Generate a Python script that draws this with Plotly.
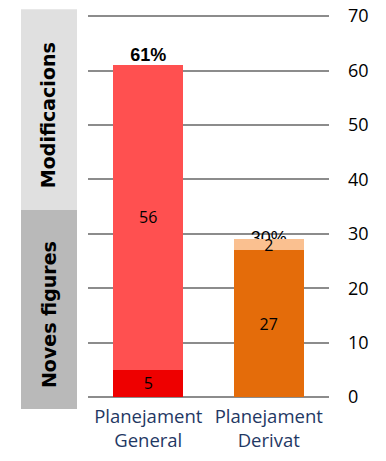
import plotly.graph_objects as go

categories = ["Planejament<br>General", "Planejament<br>Derivat"]
noves_figures = [5, 27]
modificacions = [56, 2]
total_labels = ["61%", "30%"]
noves_colors = ["#ee0000", "#e46c0a"]
modif_colors = ["#ff5050", "#fac090"]
y_ticks = [0, 10, 20, 30, 40, 50, 60, 70]
y_max = 70.4

totals = [a + b for a, b in zip(noves_figures, modificacions)]

fig = go.Figure()

# total labels on base axes (drawn beneath the bars, which sit on overlay axes)
fig.add_trace(go.Scatter(
    x=categories, y=totals, mode="text", text=total_labels,
    textposition=["top center", "middle center"],
    textfont=dict(family="Liberation Sans", size=18, color="black", weight=[700, 400]),
    hoverinfo="skip", showlegend=False, xaxis="x", yaxis="y",
))

for vals, cols, name in [(noves_figures, noves_colors, "Noves figures"),
                         (modificacions, modif_colors, "Modificacions")]:
    fig.add_trace(go.Bar(
        x=categories, y=vals, name=name,
        marker=dict(color=cols, line=dict(width=0)),
        text=[str(v) for v in vals], textposition="inside", textangle=0,
        insidetextanchor="middle", constraintext="none",
        textfont=dict(family="Open Sans", size=16, color="black"),
        xaxis="x2", yaxis="y2", showlegend=False,
    ))

W, H = 386, 461
# Plot area in page pixels: x 88..329; value 0 at y=397, value 70 at y=16
unit = (397 - 16) / 70.0
top_px = 397 - y_max * unit
L, R = 88, W - 329
T, B = top_px, H - 397
pw, ph = W - L - R, H - T - B

def px(x):
    return (x - L) / pw

def py(y):
    return (H - B - y) / ph

fig.update_layout(
    width=W, height=H,
    margin=dict(l=L, r=R, t=T, b=B),
    paper_bgcolor="white", plot_bgcolor="white",
    barmode="stack", bargap=0.42,
    uniformtext=dict(minsize=16, mode="show"),
    xaxis=dict(type="category", range=[-0.5, 1.5], showgrid=False, showline=False,
               automargin=False,
               ticks="", tickfont=dict(family="Open Sans", size=18.5, color="#1f3864"),
               ticklabelstandoff=6),
    yaxis=dict(range=[0, y_max], tickvals=y_ticks, side="right", showgrid=True,
               automargin=False,
               gridcolor="#8c8c8c", gridwidth=1.6, zeroline=True,
               zerolinecolor="#8c8c8c", zerolinewidth=1.6, showline=False, ticks="",
               tickfont=dict(family="Open Sans", size=18, color="black"),
               ticklabelstandoff=18),
    xaxis2=dict(type="category", range=[-0.5, 1.5], overlaying="x", visible=False,
                automargin=False),
    yaxis2=dict(range=[0, y_max], overlaying="y", visible=False, automargin=False),
    shapes=[
        dict(type="rect", xref="paper", yref="paper", x0=px(21), x1=px(77),
             y0=py(210), y1=py(9), fillcolor="#e0e0e0", line=dict(width=0), layer="below"),
        dict(type="rect", xref="paper", yref="paper", x0=px(21), x1=px(77),
             y0=py(409), y1=py(210), fillcolor="#b9b9b9", line=dict(width=0), layer="below"),
    ],
    annotations=[
        dict(text="Modificacions", xref="paper", yref="paper", x=px(48), y=py(115),
             textangle=-90, showarrow=False, xanchor="center", yanchor="middle",
             font=dict(family="DejaVu Sans", size=19, color="black", weight=700)),
        dict(text="Noves figures", xref="paper", yref="paper", x=px(49), y=py(315),
             textangle=-90, showarrow=False, xanchor="center", yanchor="middle",
             font=dict(family="DejaVu Sans", size=19, color="black", weight=700)),
    ],
)

fig.write_html("out.html", config={"displayModeBar": False},
               post_script="document.body.style.margin='0';")
